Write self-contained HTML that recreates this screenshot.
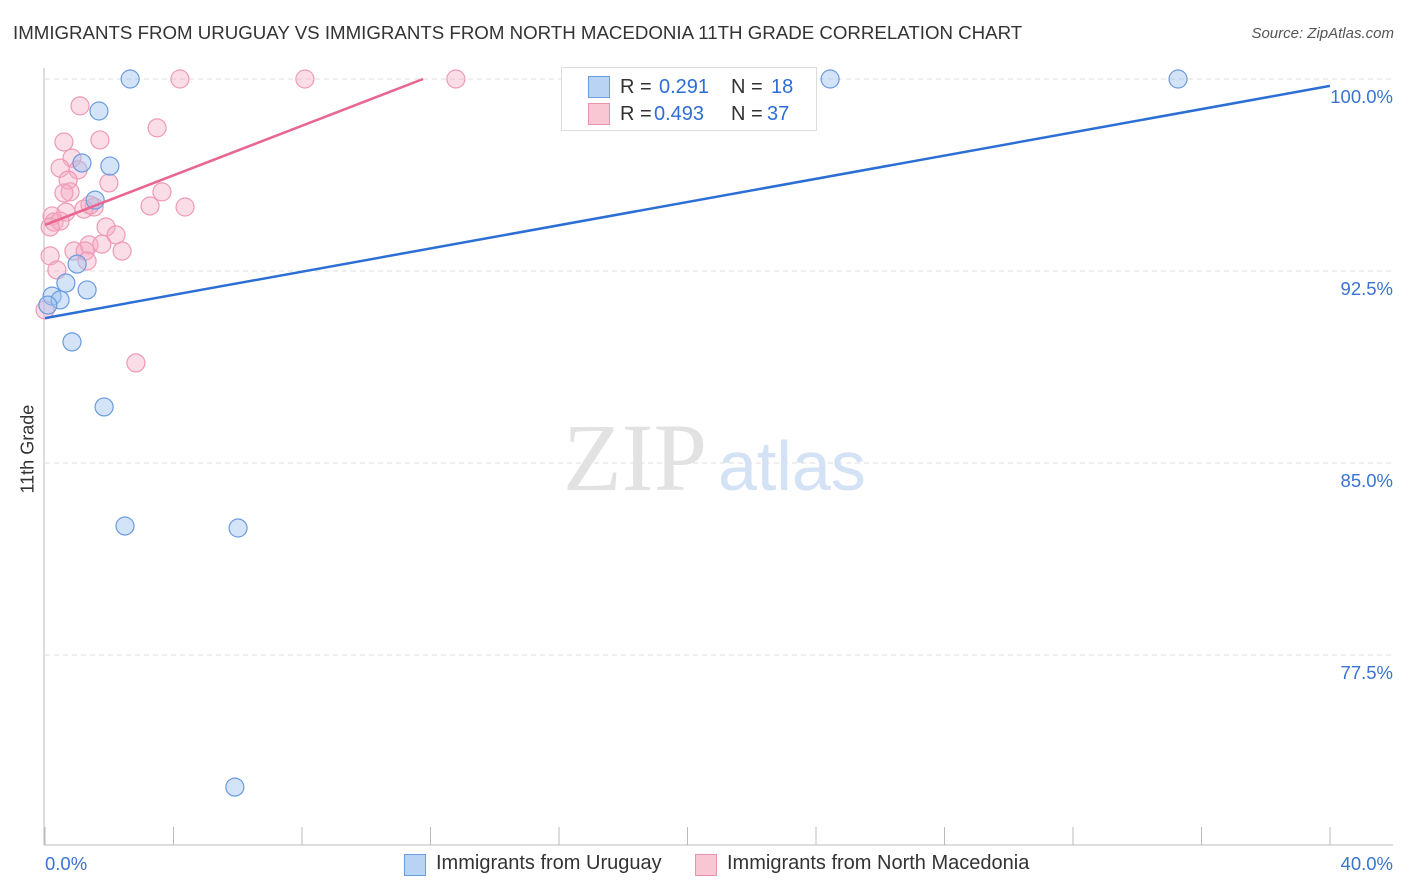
<!DOCTYPE html>
<html><head><meta charset="utf-8"><style>
body{margin:0;background:#fff;font-family:"Liberation Sans",sans-serif;}
#wrap{position:relative;width:1406px;height:892px;overflow:hidden;}
.t{position:absolute;white-space:nowrap;}
</style></head><body>
<div id="wrap">
<div class="t" style="left:13px;top:22px;font-size:18.7px;color:#333;">IMMIGRANTS FROM URUGUAY VS IMMIGRANTS FROM NORTH MACEDONIA 11TH GRADE CORRELATION CHART</div>
<div class="t" style="right:12px;top:25px;font-size:15px;color:#555;font-style:italic;">Source: ZipAtlas.com</div>
<svg id="svg" width="1406" height="892" style="position:absolute;left:0;top:0"></svg>
<div class="t" style="left:-12px;top:443px;font-size:18px;color:#333;transform:rotate(-90deg);width:80px;text-align:center;">11th Grade</div>
<div style="position:absolute;left:561px;top:67px;width:254px;height:62px;border:1px solid #ddd;background:#fff;font-size:20px;">
 <div style="position:absolute;left:26px;top:8px;">
  <span style="position:absolute;left:0;top:0;width:20px;height:20px;background:#b9d3f5;border:1px solid #6d9de0;"></span>
  <span class="t" style="left:32px;top:0;color:#333;">R =</span><span class="t" style="left:71px;top:0;color:#2d6ed6;">0.291</span>
  <span class="t" style="left:143px;top:0;color:#333;">N =</span><span class="t" style="left:183px;top:0;color:#2d6ed6;">18</span></div>
 <div style="position:absolute;left:26px;top:35px;">
  <span style="position:absolute;left:0;top:0;width:20px;height:20px;background:#f9c6d4;border:1px solid #eb92ae;"></span>
  <span class="t" style="left:32px;top:0;color:#333;">R =</span><span class="t" style="left:66px;top:0;color:#2d6ed6;">0.493</span>
  <span class="t" style="left:143px;top:0;color:#333;">N =</span><span class="t" style="left:179px;top:0;color:#2d6ed6;">37</span></div>
</div>
<div style="position:absolute;left:404px;top:852px;font-size:20px;color:#333;">
 <span style="position:absolute;left:0;top:2px;width:20px;height:20px;background:#b9d3f5;border:1px solid #6d9de0;"></span>
 <span class="t" style="left:32px;top:0;">Immigrants from Uruguay</span>
 <span style="position:absolute;left:291px;top:2px;width:20px;height:20px;background:#f9c6d4;border:1px solid #eb92ae;"></span>
 <span class="t" style="left:323px;top:0;">Immigrants from North Macedonia</span>
</div>
</div>
<script>
const xTicks=[0,4,8,12,16,20,24,28,32,36,40];
const yGrid=[100,92.5,85,77.5];
const yTickLabels=["100.0%","92.5%","85.0%","77.5%"];
const xEndLabels=["0.0%","40.0%"];
const blueX=[2.65,1.68,1.15,2.02,1.56,1.00,1.31,0.65,0.22,0.47,0.09,0.84,1.84,2.49,6.01,5.91,24.44,35.27];
const blueY=[100,98.75,96.72,96.60,95.27,92.77,91.76,92.03,91.52,91.37,91.17,89.73,87.19,82.54,82.46,72.34,100,100];
const pinkX=[4.20,8.09,12.79,1.09,3.49,0.59,1.71,0.84,0.47,1.03,0.72,1.99,0.78,3.64,1.53,3.27,4.36,1.21,0.65,0.22,0.28,0.47,0.16,1.90,2.21,1.37,1.77,0.90,1.25,2.40,1.31,0.16,0.37,2.83,0.0,1.40,0.59];
const pinkY=[100,100,100,98.95,98.09,97.54,97.62,96.91,96.52,96.45,96.05,95.94,95.59,95.59,95.0,95.04,95.0,94.92,94.80,94.65,94.41,94.45,94.22,94.22,93.91,93.52,93.55,93.28,93.28,93.28,92.89,93.09,92.54,88.91,90.98,95.08,95.55];
const blueTrendX=[0,40], blueTrendY=[90.66,99.73];
const pinkTrendX=[0,11.77], pinkTrendY=[94.30,100];

const X0=45,X1=1330,Y100=79,PXPER=25.6;
const sx=v=>X0+(v/40)*(X1-X0);
const sy=v=>Y100+(100-v)*PXPER;
const svg=document.getElementById('svg');
const NS='http://www.w3.org/2000/svg';
function mk(tag,attrs){const e=document.createElementNS(NS,tag);for(const k in attrs)e.setAttribute(k,attrs[k]);svg.appendChild(e);return e;}
yGrid.forEach((v,i)=>{
 const g=mk('line',{x1:45,x2:1393,y1:sy(v),y2:sy(v),stroke:'#ddd','stroke-dasharray':'5,4'});
 
 
 const t=mk('text',{x:1393,y:sy(v)+24,'text-anchor':'end','font-size':18.5,fill:'#3a73d0','font-family':'Liberation Sans, sans-serif'});
 t.textContent=yTickLabels[i];
 
 
});
const ya=mk('line',{x1:44,x2:44,y1:68,y2:845,stroke:'#bbb'});


const xa=mk('line',{x1:44,x2:1393,y1:845,y2:845,stroke:'#bbb'});


xTicks.forEach(v=>{
 const k=mk('line',{x1:sx(v),x2:sx(v),y1:827,y2:845,stroke:'#bbb'});
 
 
});
[[0,'start',45],[40,'end',1393]].forEach((a,i)=>{
 const t=mk('text',{x:a[2],y:870,'text-anchor':a[1],'font-size':18.5,fill:'#3a73d0','font-family':'Liberation Sans, sans-serif'});
 t.textContent=xEndLabels[i];
 
 
});
const w1=mk('text',{x:635,y:490,'text-anchor':'middle','font-size':96,fill:'#e2e2e2','font-family':'Liberation Serif, serif'});
w1.textContent='ZIP';


const w2=mk('text',{x:718,y:490,'font-size':70,fill:'#d3e2f5','font-family':'Liberation Sans, sans-serif'});
w2.textContent='atlas';


pinkX.forEach((x,i)=>{
 const c=mk('circle',{cx:sx(x),cy:sy(pinkY[i]),r:9,fill:'rgba(246,170,195,0.4)',stroke:'#ee9ab5','stroke-width':1.2});
 
 
});
blueX.forEach((x,i)=>{
 const c=mk('circle',{cx:sx(x),cy:sy(blueY[i]),r:9,fill:'rgba(160,196,240,0.45)',stroke:'#6a9ae0','stroke-width':1.2});
 
 
});
const bl=mk('line',{x1:sx(blueTrendX[0]),y1:sy(blueTrendY[0]),x2:sx(blueTrendX[1]),y2:sy(blueTrendY[1]),stroke:'#2c6fd4','stroke-width':2.5});


const pl=mk('line',{x1:sx(pinkTrendX[0]),y1:sy(pinkTrendY[0]),x2:sx(pinkTrendX[1]),y2:sy(pinkTrendY[1]),stroke:'#e8668f','stroke-width':2.5});


</script>
</body></html>
